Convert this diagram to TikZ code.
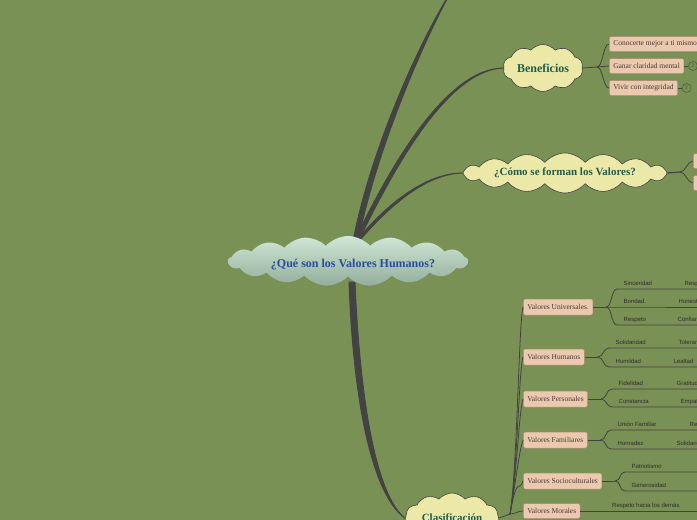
\documentclass[tikz,border=0pt]{standalone}
\usepackage{fontspec}
\setmainfont{Liberation Serif}
\setsansfont{Liberation Sans}
\usepackage{xcolor}
\usetikzlibrary{shapes.symbols,positioning,shadows}
\pgfdeclarelayer{back}
\pgfdeclarelayer{wire}
\pgfsetlayers{back,wire,main}
\definecolor{VBack}{HTML}{7A9155}
\definecolor{VBranch}{HTML}{434343}
\definecolor{VCloud}{HTML}{ECE8A8}
\definecolor{VMintTop}{HTML}{CFE7D4}
\definecolor{VMintBot}{HTML}{93AE9C}
\definecolor{VBlue}{HTML}{2A4C9E}
\definecolor{VTeal}{HTML}{245C48}
\definecolor{VPeach}{HTML}{EBC9AE}
\definecolor{VPeachLine}{HTML}{B08A70}
\definecolor{VBrown}{HTML}{4A3838}
\definecolor{VLeaf}{HTML}{2C2C2C}
\definecolor{VBadge}{HTML}{4E5F3E}

\begin{document}
\begin{tikzpicture}[x=1pt,y=-1pt,
  core/.style={cloud,cloud puffs=17,cloud puff arc=95,cloud ignores aspect,draw=none,
    top color=VMintTop,bottom color=VMintBot,minimum width=240pt,minimum height=50pt,
    inner sep=0pt,drop shadow={shadow xshift=0.5pt,shadow yshift=-1pt,opacity=0.25}},
  corelbl/.style={font=\bfseries\fontsize{12}{13}\selectfont,text=VBlue,xshift=5pt,yshift=-4pt},
  cl/.style={cloud,cloud puffs=14,cloud puff arc=100,cloud ignores aspect,draw=VBranch,fill=VCloud,
    line width=0.6pt,font=\bfseries\fontsize{11}{12}\selectfont,text=VTeal,inner sep=0pt},
  bx/.style={draw=VPeachLine,fill=VPeach,rounded corners=1.5pt,line width=0.5pt,
    font=\fontsize{7.5}{8}\selectfont,text=VBrown,inner xsep=4pt,inner ysep=0pt,
    minimum height=15pt,drop shadow={shadow xshift=0.6pt,shadow yshift=-0.8pt,opacity=0.35}},
  lf/.style={font=\sffamily\fontsize{6}{7}\selectfont,text=VLeaf,anchor=south west,
    inner xsep=6.5pt,inner ysep=3.5pt,text depth=0pt},
  badge/.style={circle,draw=VBadge,line width=0.6pt,minimum size=9pt,inner sep=0pt,
    font=\sffamily\fontsize{5.5}{6}\selectfont,text=VBadge},
  ln/.style={draw=VBranch,line width=0.8pt},
  tp/.style={fill=VBranch,draw=VBranch,line width=0.9pt,line join=round}
]
\begin{pgfonlayer}{back}
  \fill[VBack] (0,0) rectangle (697,520);
\end{pgfonlayer}
\useasboundingbox (0,0) rectangle (697,520);

% centre and main topics
\node[core,label={[corelbl]center:¿Qué son los Valores Humanos?}] (main) at (348,261) {};
\coordinate (root) at (355,244);
\coordinate (rootb) at (352,282);
\coordinate (top-end) at (452,-10);
\node[cl,cloud puffs=10,minimum width=80pt,minimum height=47pt,font=\bfseries\fontsize{12}{13}\selectfont] (bene) at (543,68) {Beneficios};
\node[cl,cloud puffs=16,minimum width=204pt,minimum height=40pt] (como) at (565,173) {¿Cómo se forman los Valores?};
\node[cl,cloud puffs=11,minimum width=94pt,minimum height=50pt] (clas) at (452,518) {Clasificación};

\begin{pgfonlayer}{wire}
  \filldraw[tp] ([xshift=-2.6pt]root) .. controls (370,150) and (420,40) .. (top-end)
    .. controls (424,40) and (376,150) .. ([xshift=2.6pt]root) -- cycle;
  \filldraw[tp] ([xshift=-2pt]root) .. controls (402,140) and (455,68) .. (bene.west)
    .. controls (455,70) and (406,142) .. ([xshift=2.2pt]root) -- cycle;
  \filldraw[tp] ([xshift=-1.2pt]root) .. controls (385,205) and (425,173) .. (como.west)
    .. controls (425,174) and (388,207) .. ([xshift=1.6pt]root) -- cycle;
  \filldraw[tp] ([xshift=-3pt]rootb) .. controls (353,400) and (372,495) .. (clas.west)
    .. controls (376,495) and (360,400) .. ([xshift=3pt]rootb) -- cycle;
\end{pgfonlayer}

% Beneficios
\coordinate (bene-j) at (597,67);
\node[bx,anchor=west] (cono) at (609,44) {Conocerte mejor a ti mismo.};
\node[bx,anchor=west] (gana) at (609,66) {Ganar claridad mental};
\node[bx,anchor=west] (vivi) at (609,88) {Vivir con integridad};
\node[badge,right=4pt of gana] (n3) {3};
\node[badge,right=4pt of vivi] (n2) {2};
\draw[ln] (bene.east) -- (bene-j);
\foreach \b in {cono,gana,vivi}
  {\draw[ln] (bene-j) .. controls +(6,0) and +(-6,0) .. (\b.west);}
\draw[ln,line width=0.5pt] (gana.east) -- (n3);
\draw[ln,line width=0.5pt] (vivi.east) -- (n2);

% Como se forman
\coordinate (como-j) at (680,172);
\node[bx,anchor=west,minimum width=30pt] (form1) at (693,161) {};
\node[bx,anchor=west,minimum width=30pt] (form2) at (693,183) {};
\draw[ln,line width=1.2pt] (como.east) -- (como-j);
\foreach \b in {form1,form2}
  {\draw[ln] (como-j) .. controls +(6,0) and +(-6,0) .. (\b.west);}

% Clasificacion
\coordinate (clas-j) at (510,514);
\node[bx,anchor=west,minimum height=16pt] (univ) at (523,307) {Valores Universales.};
\node[bx,anchor=west,minimum height=16pt] (hum) at (523,357) {Valores Humanos};
\node[bx,anchor=west,minimum height=16pt] (pers) at (523,399) {Valores Personales};
\node[bx,anchor=west,minimum height=16pt] (fam) at (523,440) {Valores Familiares};
\node[bx,anchor=west,minimum height=16pt] (soc) at (523,481) {Valores Socioculturales};
\node[bx,anchor=west,minimum height=15pt] (mor) at (523,511) {Valores Morales};
\draw[ln] (clas.east) -- (clas-j);
\foreach \c in {univ,hum,pers,fam,soc}
  {\draw[ln] (clas-j) .. controls +(7,-40) and +(-4,12) .. (\c.west);
   \draw[ln] (\c.east) -- ++(13,0) coordinate (\c-j);}
\draw[ln] (clas-j) .. controls +(5,0) and +(-5,0) .. (mor.west);

\foreach \c/\y/\x/\a/\xx/\b [count=\i] in {
  univ/289/617/Sinceridad/678/Responsabilidad,
  univ/307/617/Bondad./672/Honestidad,
  univ/325/617/Respeto/671/Confianza,
  hum/348/609/Solidaridad/672/Tolerancia,
  hum/367/609/Humildad/667/Lealtad,
  pers/389/612/Fidelidad/670/Gratitud,
  pers/407/612/Constancia/674/Empatía,
  fam/430/611/Unión Familiar/683/Respeto,
  fam/449/611/Honradez/670/Solidaridad,
  soc/472/625/Patriotismo/720/{},
  soc/491/625/Generosidad/720/{}}
{
  \node[lf] (l\i) at (\x,\y) {\a};
  \node[lf] (m\i) at (\xx,\y) {\b};
  \draw[ln] (\c-j) .. controls +(6,0) and +(-6,0) .. (l\i.south west) -- (m\i.south east);
}
\node[lf] (resp) at (605.5,511) {Respeto hacia los demás};
\draw[ln] (mor.east) -- ([xshift=30pt]resp.south east);
\end{tikzpicture}
\end{document}
